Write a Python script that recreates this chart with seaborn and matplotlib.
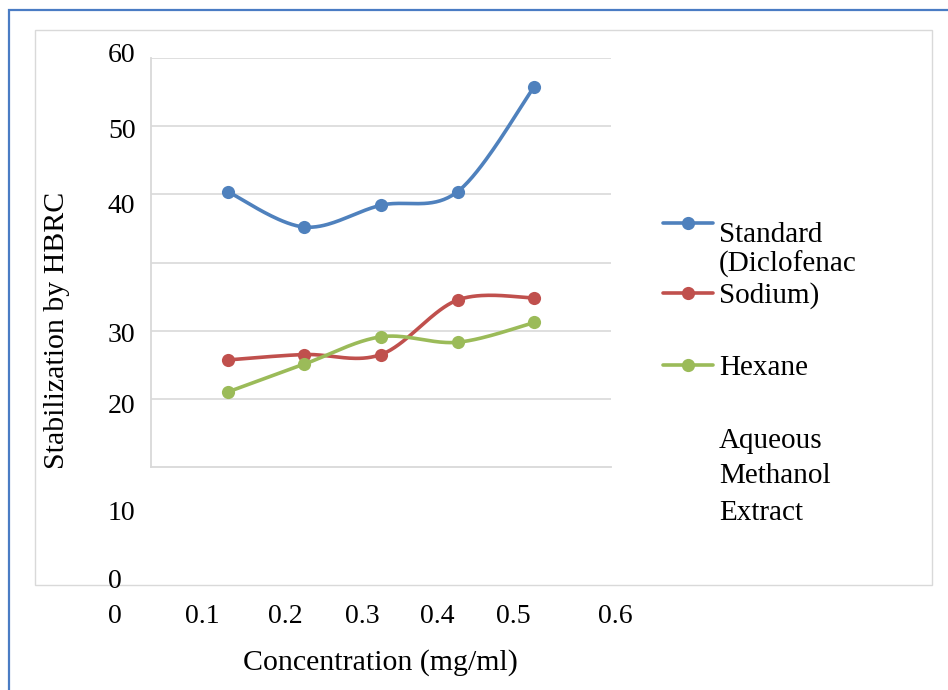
import numpy as np
import pandas as pd
import matplotlib
matplotlib.use("Agg")
import matplotlib.pyplot as plt
import seaborn as sns
from matplotlib.lines import Line2D
from matplotlib.patches import Rectangle

# ---------------- data ----------------
concentration = [0.1, 0.2, 0.3, 0.4, 0.5]
standard = [40.4, 35.2, 38.4, 40.4, 55.8]
hexane = [15.7, 16.5, 16.5, 24.5, 24.8]
aqueous = [11.0, 15.1, 19.1, 18.3, 21.2]

series_names = ["Standard (Diclofenac Sodium)", "Hexane", "Aqueous Methanol Extract"]
series_values = [standard, hexane, aqueous]
series_colors = ["#4F81BD", "#C0504D", "#9BBB59"]

y_tick_labels = ["60", "50", "40", "30", "20", "10", "0"]
x_tick_labels = ["0", "0.1", "0.2", "0.3", "0.4", "0.5", "0.6"]
legend_lines = [["Standard", "(Diclofenac"], ["Sodium)"], ["Hexane", "", "Aqueous", "Methanol", "Extract"]]

x_title = "Concentration (mg/ml)"
y_title = "Stabilization by HBRC"

# ---------------- helpers ----------------
W, H = 948, 690


def fx(px):
    return px / W


def fy(py):
    return 1 - py / H


def smooth(x, y, n=40):
    P = np.column_stack([x, y]).astype(float)
    E = np.vstack([P[0], P, P[-1]])
    out = []
    t = np.linspace(0, 1, n)[:, None]
    for i in range(len(P) - 1):
        p0, p1, p2, p3 = E[i], E[i + 1], E[i + 2], E[i + 3]
        c1 = p1 + (p2 - p0) / 6
        c2 = p2 - (p3 - p1) / 6
        seg = (1 - t) ** 3 * p1 + 3 * (1 - t) ** 2 * t * c1 + 3 * (1 - t) * t ** 2 * c2 + t ** 3 * p2
        out.append(seg if i == 0 else seg[1:])
    return np.vstack(out)


sns.set_theme(style="white")
plt.rcParams["font.family"] = ["Liberation Serif", "DejaVu Serif"]

fig = plt.figure(figsize=(9.48, 6.9), dpi=100)
fig.patch.set_facecolor("white")

# borders
fig.add_artist(Rectangle((fx(9), fy(700)), 2.0, fy(10) - fy(700), transform=fig.transFigure,
                         fill=False, edgecolor="#4A7CC4", lw=1.6))
fig.add_artist(Rectangle((fx(35), fy(585)), fx(932) - fx(35), fy(30) - fy(585), transform=fig.transFigure,
                         fill=False, edgecolor="#D9D9D9", lw=1.0))

ax = fig.add_axes([fx(151), fy(467), fx(611) - fx(151), fy(58) - fy(467)])
ax.set_xlim(0, 0.6)
ax.set_ylim(0, 60)

for name, vals, col in zip(series_names, series_values, series_colors):
    sm = smooth(concentration, vals)
    df_line = pd.DataFrame({"x": sm[:, 0], "y": sm[:, 1]})
    sns.lineplot(data=df_line, x="x", y="y", ax=ax, color=col, lw=2.6, sort=False, estimator=None)
    df_pts = pd.DataFrame({"x": concentration, "y": vals})
    sns.scatterplot(data=df_pts, x="x", y="y", ax=ax, color=col, s=90, linewidth=0, zorder=5)

ax.set_xticks([])
ax.set_yticks([10, 20, 30, 40, 50, 60])
ax.set_yticklabels([])
ax.tick_params(left=False, bottom=False)
ax.grid(axis="y", color="#D9D9D9", lw=1.2)
ax.set_axisbelow(True)
ax.set_xlabel("")
ax.set_ylabel("")
for s in ["top", "right"]:
    ax.spines[s].set_visible(False)
for s in ["left", "bottom"]:
    ax.spines[s].set_color("#D9D9D9")
    ax.spines[s].set_linewidth(1.3)

# tick labels (as placed in the reference)
y_label_baselines = [62, 138, 213, 342, 413, 520, 588]
for lab, by in zip(y_tick_labels, y_label_baselines):
    fig.text(fx(108), fy(by), lab, ha="left", va="baseline", fontsize=20, color="#000000")

x_label_centers = [115, 202, 285, 362, 437, 513, 615]
for lab, cx in zip(x_tick_labels, x_label_centers):
    fig.text(fx(cx), fy(623), lab, ha="center", va="baseline", fontsize=20, color="#000000")

fig.text(fx(380), fy(670), x_title, ha="center", va="baseline", fontsize=21.5, color="#000000")
fig.text(fx(57), fy(330), y_title, ha="center", va="center", rotation=90, fontsize=21.5, color="#000000")

# legend (manual layout)
handle_y = [223, 293, 365]
text_baselines = [[242, 272], [303], [375, 0, 448, 483, 520]]
for col, hy, lines, bls in zip(series_colors, handle_y, legend_lines, text_baselines):
    fig.add_artist(Line2D([fx(663), fx(713)], [fy(hy), fy(hy)], transform=fig.transFigure,
                          color=col, lw=2.6))
    fig.add_artist(Line2D([fx(688)], [fy(hy)], transform=fig.transFigure, color=col,
                          marker="o", markersize=9.5, markeredgewidth=0))
    for txt, b in zip(lines, bls):
        if txt:
            fig.text(fx(719), fy(b), txt, ha="left", va="baseline", fontsize=21, color="#000000")

fig.savefig("out.png", dpi=100)
